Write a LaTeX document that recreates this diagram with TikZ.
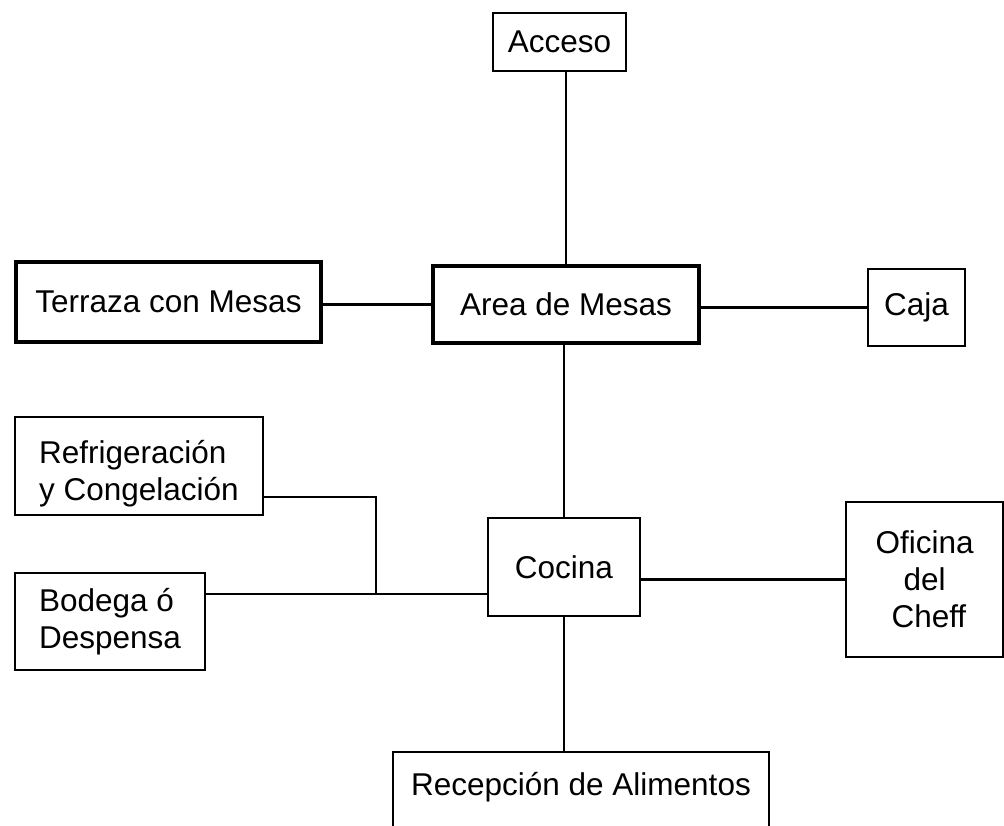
\documentclass[tikz,border=0pt]{standalone}
\usepackage{fontspec}
\setmainfont{Liberation Sans}
\usepackage{tikz}
\usetikzlibrary{positioning,calc}

\begin{document}
\begin{tikzpicture}[x=0.5pt,y=-0.5pt,font=\fontsize{15.75}{18.5}\selectfont,
    room/.style={draw,line width=1.1pt,inner sep=0pt},
    mainroom/.style={room,line width=2.4pt}]
    \path[use as bounding box,fill=white] (0,0) rectangle (1004,825);
    \clip (0,0) rectangle (1004,825);
    % simple rooms
    \foreach \name/\x/\y/\w/\h/\txt in {acceso/559.5/42/66.5/29/Acceso,
        caja/916.5/307.5/48.5/38.5/Caja,cocina/564/567/76/49/Cocina} {
      \node[room,minimum width=\w pt,minimum height=\h pt] (\name) at (\x,\y) {\txt};
    }
    \node[mainroom,minimum width=133pt,minimum height=38.5pt] (area) at (566,304.5) {Area de Mesas};
    \node[mainroom,minimum width=152.5pt,minimum height=40pt] (terraza) at (168.5,302) {Terraza con Mesas};
    \node[room,minimum width=124pt,minimum height=49pt,
      label={[align=left,yshift=-4pt]center:Refrigeración\\y Congelación}] (refrig) at (139,466) {};
    \node[room,align=left,minimum width=95pt,minimum height=48.5pt] (bodega) at (110,621.5) {Bodega ó\\Despensa};
    \node[room,align=center,minimum width=78.5pt,minimum height=77.5pt] (oficina) at (924.5,579.5) {Oficina\\del\\\ Cheff};
    \node[room,anchor=north,minimum width=188pt,inner ysep=9.75pt,
      text height=12pt,text depth=23pt] (recepcion) at (581,751) {Recepción de Alimentos};
    \coordinate (bend) at (376,497);
    \coordinate (junc) at (376,594);
    % connectors
    \begin{scope}[line width=1.1pt]
      \draw (area.north) -- (area.north |- acceso.south);
      \draw (area.west) -- (area.west -| terraza.east);
      \draw (caja.west) -- (caja.west -| area.east);
      \draw (cocina.north) -- (cocina.north |- area.south);
      \draw (oficina.west) -- (oficina.west -| cocina.east);
      \draw (cocina.south) -- (cocina.south |- recepcion.north);
      \draw (refrig.east |- bend) -- (bend) -- (junc);
      \draw (bodega.east |- junc) -- (cocina.west |- junc);
    \end{scope}
\end{tikzpicture}
\end{document}
